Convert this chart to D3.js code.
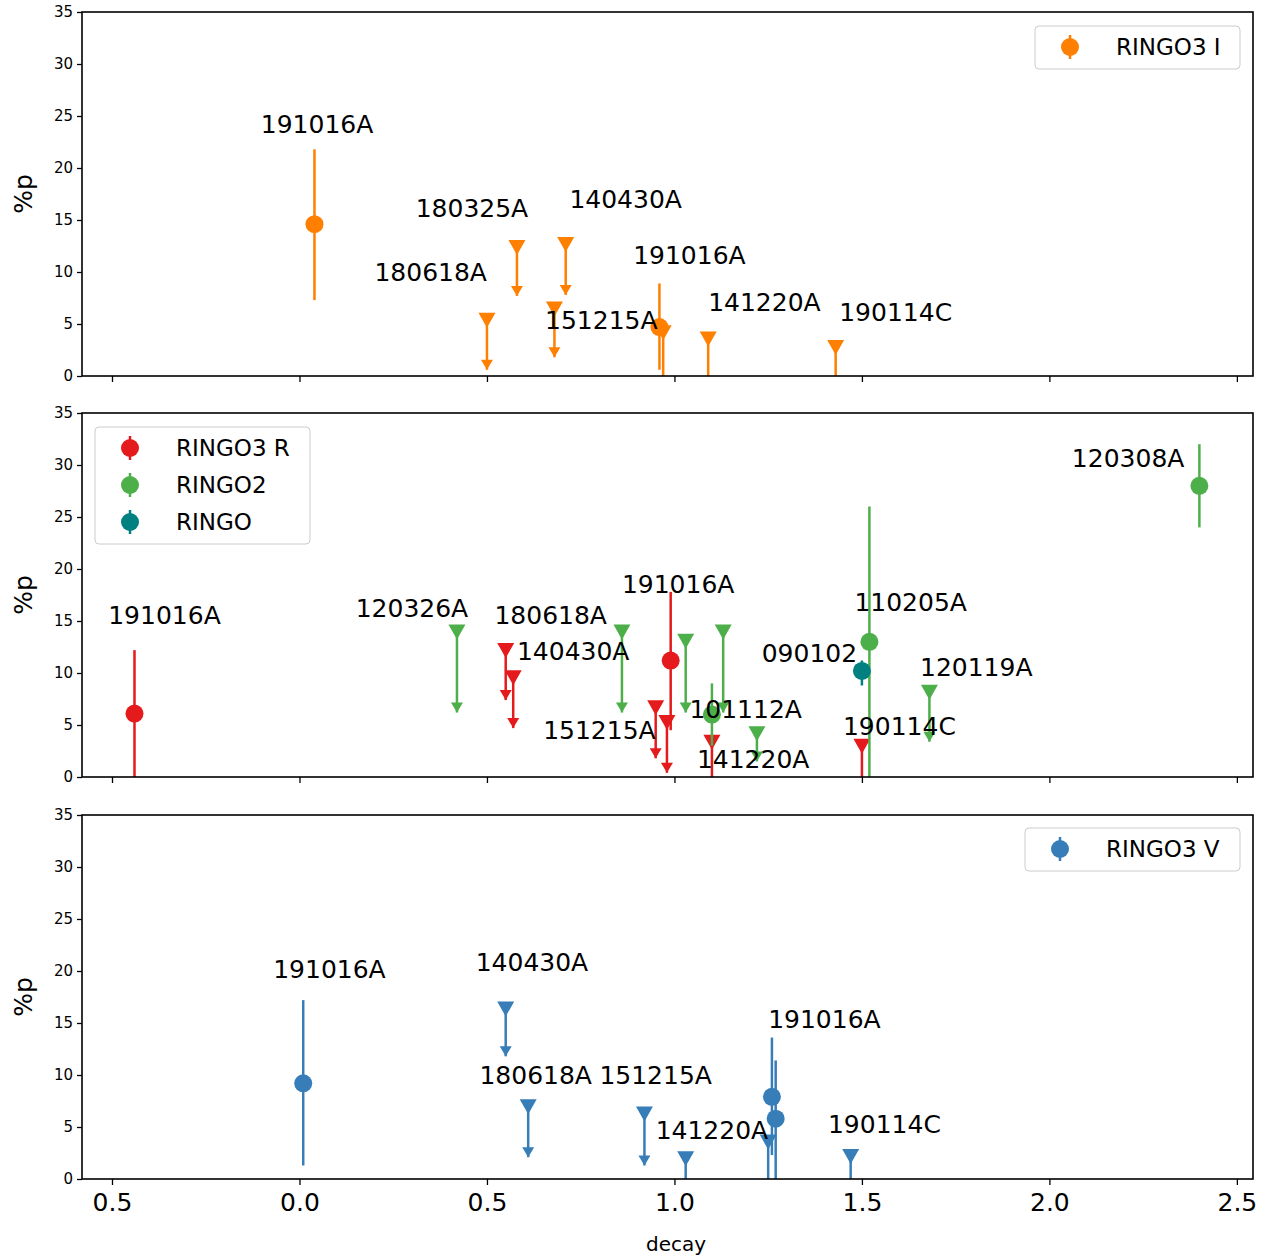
<!DOCTYPE html>
<html>
<head>
<meta charset="utf-8">
<script src="https://d3js.org/d3.v7.min.js"></script>
<style>
body { margin:0; background:#fff; font-family:"DejaVu Sans", sans-serif; }
</style>
</head>
<body>
<svg id="chart" width="1268" height="1255"></svg>
<script>
// points: [decay, %p, errLow, errHigh]
// limits: [decay, upper limit, arrow end]
const iPoints = [[0.04, 14.6, 7.3, 21.8], [0.96, 4.7, 0.6, 8.9]];
const iLimits = [[0.5, 5.4, 0.6], [0.58, 12.4, 7.7], [0.68, 6.5, 1.8],
  [0.71, 12.7, 7.8], [0.97, 4.2, -1], [1.09, 3.6, -1], [1.43, 2.8, -1]];

const rPoints = [[-0.44, 6.1, -1, 12.2], [0.99, 11.2, 4.5, 17.8]];
const rLimits = [[0.55, 12.2, 7.4], [0.57, 9.6, 4.7], [0.95, 6.7, 1.8],
  [0.98, 5.3, 0.4], [1.1, 3.4, -1], [1.5, 3.0, -1]];
const g2Points = [[1.1, 6.0, 3.0, 9.0], [1.52, 13.0, -1, 26.0], [2.4, 28.0, 24.0, 32.0]];
const g2Limits = [[0.42, 14.0, 6.2], [0.86, 14.0, 6.2], [1.03, 13.1, 6.2],
  [1.13, 14.0, 6.2], [1.22, 4.2, 1.5], [1.68, 8.2, 3.4]];
const gPoints = [[1.5, 10.2, 8.8, 11.2]];

const vPoints = [[0.01, 9.2, 1.3, 17.2], [1.26, 7.9, 2.3, 13.6], [1.27, 5.8, -1, 11.4]];
const vLimits = [[0.55, 16.4, 11.8], [0.61, 7.0, 2.1], [0.92, 6.3, 1.3],
  [1.03, 2.0, -1], [1.25, 3.6, -1], [1.47, 2.2, -1]];

// labels [x, y, text] in data units (centre of text)
const iLabels = [[0.047, 24.1, "191016A"], [0.35, 9.9, "180618A"], [0.46, 16.1, "180325A"],
  [0.805, 5.3, "151215A"], [0.87, 16.9, "140430A"], [1.04, 11.5, "191016A"],
  [1.24, 7.0, "141220A"], [1.59, 6.1, "190114C"]];
const mLabels = [[-0.36, 15.5, "191016A"], [0.3, 16.2, "120326A"], [0.67, 15.5, "180618A"],
  [0.73, 12.0, "140430A"], [0.8, 4.4, "151215A"], [1.01, 18.5, "191016A"], [1.19, 6.4, "101112A"],
  [1.21, 1.6, "141220A"], [1.63, 16.7, "110205A"], [1.36, 11.8, "090102"], [1.805, 10.5, "120119A"],
  [1.6, 4.8, "190114C"], [2.21, 30.6, "120308A"]];
const vLabels = [[0.08, 20.1, "191016A"], [0.62, 20.8, "140430A"], [0.63, 9.9, "180618A"],
  [0.95, 9.9, "151215A"], [1.1, 4.6, "141220A"], [1.4, 15.3, "191016A"], [1.56, 5.2, "190114C"]];

const xTicks = [-0.5, 0, 0.5, 1.0, 1.5, 2.0, 2.5];
const xTickLabels = ["0.5", "0.0", "0.5", "1.0", "1.5", "2.0", "2.5"];
const yTicks = [0, 5, 10, 15, 20, 25, 30, 35];

const C = { I: "#ff7f00", R: "#e41a1c", G2: "#4daf4a", G: "#008080", V: "#377eb8" };

const svg = d3.select("#chart");
const x = d3.scaleLinear().domain([-0.58, 2.543]).range([82, 1253]);

function panel(top, series, labels, legend, showX) {
  const y = d3.scaleLinear().domain([0, 35]).range([top + 364, top]);
  const g = svg.append("g");
  const clipId = "clip" + top;
  g.append("clipPath").attr("id", clipId).append("rect")
    .attr("x", 82).attr("y", top).attr("width", 1171).attr("height", 364);
  const plot = g.append("g").attr("clip-path", `url(#${clipId})`);

  series.forEach(s => {
    (s.limits || []).forEach(d => {
      const cx = x(d[0]), cy = y(d[1]), ey = y(d[2]);
      plot.append("line").attr("x1", cx).attr("x2", cx).attr("y1", cy).attr("y2", ey)
        .attr("stroke", s.color).attr("stroke-width", 2.5);
      plot.append("path").attr("d", `M${cx - 6},${ey - 10}L${cx + 6},${ey - 10}L${cx},${ey}Z`).attr("fill", s.color);
      plot.append("path").attr("d", `M${cx - 8.5},${cy - 7}L${cx + 8.5},${cy - 7}L${cx},${cy + 8}Z`).attr("fill", s.color);
    });
    (s.points || []).forEach(d => {
      const cx = x(d[0]);
      plot.append("line").attr("x1", cx).attr("x2", cx).attr("y1", y(d[2])).attr("y2", y(d[3]))
        .attr("stroke", s.color).attr("stroke-width", 2.5);
      plot.append("circle").attr("cx", cx).attr("cy", y(d[1])).attr("r", 9).attr("fill", s.color);
    });
  });

  g.selectAll(".lab").data(labels).join("text")
    .attr("x", d => x(d[0])).attr("y", d => y(d[1]) + 8)
    .attr("text-anchor", "middle").attr("font-size", 25).attr("fill", "#000")
    .text(d => d[2]);

  const ya = d3.axisLeft(y).tickValues(yTicks).tickSize(5).tickPadding(4);
  const yg = g.append("g").attr("transform", "translate(82,0)").call(ya);
  yg.selectAll("text").attr("font-size", 15).attr("font-family", "DejaVu Sans");
  const xa = d3.axisBottom(x).tickValues(xTicks).tickSize(6).tickPadding(8)
    .tickFormat((d, i) => showX ? xTickLabels[i] : "");
  const xg = g.append("g").attr("transform", `translate(0,${top + 364})`).call(xa);
  xg.selectAll("text").attr("font-size", 25).attr("font-family", "DejaVu Sans");
  [xg, yg].forEach(a => { a.select(".domain").remove(); a.selectAll("line").attr("stroke-width", 1.3); });
  g.append("rect").attr("x", 82).attr("y", top).attr("width", 1171).attr("height", 364)
    .attr("fill", "none").attr("stroke", "#000").attr("stroke-width", 1.6);
  g.append("text").attr("transform", `translate(32,${top + 182}) rotate(-90)`)
    .attr("text-anchor", "middle").attr("font-size", 25).text("%p");

  const lg = g.append("g");
  lg.append("rect").attr("x", legend.x).attr("y", legend.y).attr("width", legend.w)
    .attr("height", 6 + 37 * legend.items.length).attr("rx", 4)
    .attr("fill", "#fff").attr("fill-opacity", 0.8).attr("stroke", "#ccc");
  legend.items.forEach((it, i) => {
    const cy = legend.y + 21 + 37 * i;
    const cx = legend.x + 35;
    lg.append("line").attr("x1", cx).attr("x2", cx).attr("y1", cy - 12).attr("y2", cy + 12)
      .attr("stroke", it[1]).attr("stroke-width", 2.5);
    lg.append("circle").attr("cx", cx).attr("cy", cy).attr("r", 9).attr("fill", it[1]);
    lg.append("text").attr("x", legend.x + 81).attr("y", cy + 8).attr("font-size", 23).text(it[0]);
  });
}

panel(12, [{ color: C.I, points: iPoints, limits: iLimits }], iLabels,
  { x: 1035, y: 26, w: 205, items: [["RINGO3 I", C.I]] }, false);
panel(413, [{ color: C.R, points: rPoints, limits: rLimits }, { color: C.G2, points: g2Points, limits: g2Limits },
  { color: C.G, points: gPoints }], mLabels,
  { x: 95, y: 427, w: 215, items: [["RINGO3 R", C.R], ["RINGO2", C.G2], ["RINGO", C.G]] }, false);
panel(815, [{ color: C.V, points: vPoints, limits: vLimits }], vLabels,
  { x: 1025, y: 828, w: 215, items: [["RINGO3 V", C.V]] }, true);

svg.append("text").attr("x", 676).attr("y", 1251).attr("text-anchor", "middle")
  .attr("font-size", 20).text("decay");
</script>
</body>
</html>
